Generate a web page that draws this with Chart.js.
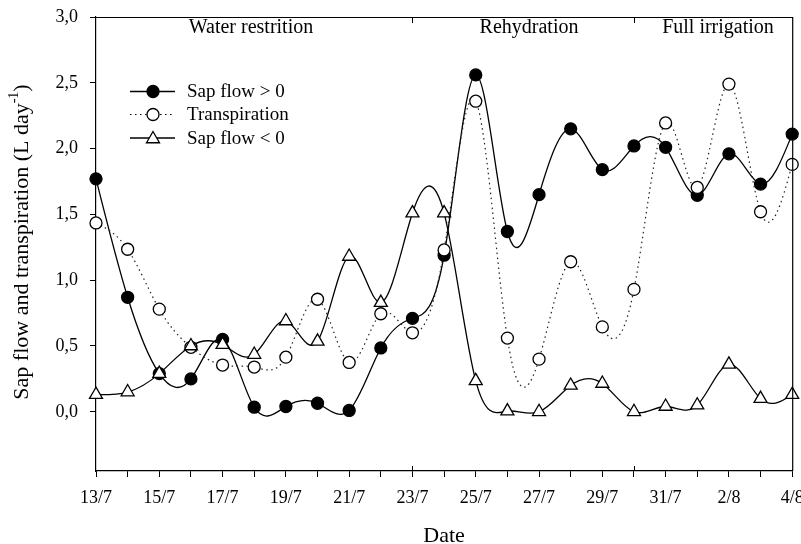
<!DOCTYPE html>
<html>
<head>
<meta charset="utf-8">
<script src="https://cdn.jsdelivr.net/npm/chart.js@4.4.1/dist/chart.umd.min.js"></script>
<style>
html,body{margin:0;padding:0;background:#fff;}
#wrap{width:801px;height:544px;position:relative;}
</style>
</head>
<body>
<div id="wrap"><canvas id="c" width="801" height="544"></canvas></div>
<script>
// ---- data ----
const dates = ['13/7','14/7','15/7','16/7','17/7','18/7','19/7','20/7','21/7','22/7','23/7','24/7','25/7','26/7','27/7','28/7','29/7','30/7','31/7','1/8','2/8','3/8','4/8'];
const sapFlowPos = [1.77,0.87,0.29,0.25,0.55,0.035,0.04,0.065,0.01,0.485,0.71,1.19,2.56,1.37,1.65,2.15,1.84,2.02,2.01,1.645,1.96,1.73,2.11];
const transpiration = [1.435,1.235,0.78,0.49,0.355,0.34,0.415,0.855,0.375,0.745,0.60,1.23,2.36,0.56,0.40,1.14,0.645,0.93,2.195,1.705,2.49,1.52,1.88];
const sapFlowNeg = [0.13,0.15,0.29,0.50,0.51,0.435,0.69,0.535,1.18,0.83,1.51,1.51,0.235,0.005,0.0,0.2,0.215,0.0,0.04,0.05,0.36,0.10,0.13];
const yTicks = [0,0.5,1.0,1.5,2.0,2.5,3.0];
const yTickLabels = ['0,0','0,5','1,0','1,5','2,0','2,5','3,0'];
const phaseLabels = ['Water restrition','Rehydration','Full irrigation'];
const phaseBounds = [10,17]; // 23/7 and 30/7 (indices into dates)
const seriesNames = ['Sap flow > 0','Transpiration','Sap flow < 0'];
const yTitle = 'Sap flow and transpiration (L day';
const xTitle = 'Date';

const FONT = 'Liberation Serif';
Chart.defaults.font.family = FONT;
Chart.defaults.color = '#000';

const toXY = arr => arr.map((v,i)=>({x:i,y:v}));

// natural cubic spline control points (computed from the library's pixel positions)
const splinePlugin = {
  id:'naturalSpline',
  beforeDatasetDraw(chart,args){
    const meta=args.meta, pts=meta.data, n=pts.length;
    if(n<3) return;
    const xs=pts.map(p=>p.x), ys=pts.map(p=>p.y);
    const h=[]; for(let i=0;i<n-1;i++) h.push(xs[i+1]-xs[i]);
    const a=new Array(n).fill(0), b=new Array(n).fill(0), c=new Array(n).fill(0), d=new Array(n).fill(0);
    b[0]=1; b[n-1]=1;
    for(let i=1;i<n-1;i++){a[i]=h[i-1];b[i]=2*(h[i-1]+h[i]);c[i]=h[i];d[i]=6*((ys[i+1]-ys[i])/h[i]-(ys[i]-ys[i-1])/h[i-1]);}
    const cp=new Array(n), dp=new Array(n);
    cp[0]=c[0]/b[0]; dp[0]=d[0]/b[0];
    for(let i=1;i<n;i++){const m=b[i]-a[i]*cp[i-1];cp[i]=c[i]/m;dp[i]=(d[i]-a[i]*dp[i-1])/m;}
    const M=new Array(n); M[n-1]=dp[n-1];
    for(let i=n-2;i>=0;i--) M[i]=dp[i]-cp[i]*M[i+1];
    for(let i=0;i<n-1;i++){
      const s=(ys[i+1]-ys[i])/h[i];
      const d0=s-h[i]*(2*M[i]+M[i+1])/6;
      const d1=s+h[i]*(M[i]+2*M[i+1])/6;
      pts[i].cp2x=xs[i]+h[i]/3; pts[i].cp2y=ys[i]+d0*h[i]/3;
      pts[i+1].cp1x=xs[i+1]-h[i]/3; pts[i+1].cp1y=ys[i+1]-d1*h[i]/3;
    }
    pts[0].cp1x=xs[0];pts[0].cp1y=ys[0];pts[n-1].cp2x=xs[n-1];pts[n-1].cp2y=ys[n-1];
    meta.dataset._pointsUpdated=true;
    meta.dataset._path=undefined;
  }
};

function drawMarker(ctx,style,x,y,r,fill){
  ctx.save();
  ctx.lineWidth=1.3; ctx.strokeStyle='#000'; ctx.fillStyle=fill;
  ctx.beginPath();
  if(style==='circle'){ctx.arc(x,y,r,0,Math.PI*2);}
  else{
    let rad=0;
    ctx.moveTo(x+Math.sin(rad)*r,y-Math.cos(rad)*r);
    rad+=2*Math.PI/3; ctx.lineTo(x+Math.sin(rad)*r,y-Math.cos(rad)*r);
    rad+=2*Math.PI/3; ctx.lineTo(x+Math.sin(rad)*r,y-Math.cos(rad)*r);
    ctx.closePath();
  }
  ctx.fill(); ctx.stroke();
  ctx.restore();
}

const decorPlugin = {
  id:'decor',
  afterDraw(chart){
    const ctx=chart.ctx, ca=chart.chartArea, xs=chart.scales.x;
    ctx.save();
    ctx.strokeStyle='#000'; ctx.lineWidth=1.2;
    // top and right frame
    ctx.beginPath();
    ctx.moveTo(ca.left,ca.top+0.5); ctx.lineTo(ca.right,ca.top+0.5);
    ctx.moveTo(ca.right+0.5,ca.top); ctx.lineTo(ca.right+0.5,ca.bottom);
    ctx.stroke();
    // phase boundary ticks
    ctx.lineWidth=1;
    ctx.beginPath();
    phaseBounds.forEach(i=>{
      const px=Math.round(xs.getPixelForValue(i))+0.5;
      ctx.moveTo(px,ca.top); ctx.lineTo(px,ca.top+6);
      ctx.moveTo(px,ca.bottom-5); ctx.lineTo(px,ca.bottom);
    });
    ctx.stroke();
    // phase labels
    ctx.fillStyle='#000';
    ctx.font='20px "'+FONT+'"';
    ctx.textAlign='center'; ctx.textBaseline='alphabetic';
    ctx.fillText(phaseLabels[0],251,33);
    ctx.fillText(phaseLabels[1],529,33);
    ctx.fillText(phaseLabels[2],718,33);
    // x title
    ctx.font='22px "'+FONT+'"';
    ctx.fillText(xTitle,(ca.left+ca.right)/2,542);
    // y title with superscript
    ctx.save();
    ctx.translate(22,242); ctx.rotate(-Math.PI/2);
    ctx.textAlign='left'; ctx.textBaseline='middle';
    ctx.font='22px "'+FONT+'"';
    const w1=ctx.measureText(yTitle).width, w3=ctx.measureText(')').width;
    ctx.font='14px "'+FONT+'"';
    const w2=ctx.measureText('-1').width;
    const total=w1+w2+w3;
    let x0=-total/2;
    ctx.font='22px "'+FONT+'"';
    ctx.fillText(yTitle,x0,0);
    ctx.font='14px "'+FONT+'"';
    ctx.fillText('-1',x0+w1,-8);
    ctx.font='22px "'+FONT+'"';
    ctx.fillText(')',x0+w1+w2,0);
    ctx.restore();
    // legend
    const lx0=130, lx1=175, mx=153, tx=187, ly=[91.5,114.5,138];
    ctx.font='19px "'+FONT+'"';
    ctx.textAlign='left'; ctx.textBaseline='middle';
    for(let k=0;k<3;k++){
      ctx.save();
      ctx.lineWidth=1.3; ctx.strokeStyle='#000';
      if(k===1){ctx.setLineDash([1.5,3.5]);ctx.lineWidth=1.2;}
      ctx.beginPath(); ctx.moveTo(lx0,ly[k]); ctx.lineTo(lx1,ly[k]); ctx.stroke();
      ctx.restore();
      if(k===0) drawMarker(ctx,'circle',mx,ly[k],6,'#000');
      if(k===1) drawMarker(ctx,'circle',mx,ly[k],6,'#fff');
      if(k===2) drawMarker(ctx,'triangle',mx,ly[k]+1,7.5,'#fff');
      ctx.fillStyle='#000';
      ctx.fillText(seriesNames[k],tx,ly[k]+1);
    }
    ctx.restore();
  }
};

new Chart(document.getElementById('c'),{
  type:'line',
  data:{
    datasets:[
      {label:seriesNames[2],data:toXY(sapFlowNeg),borderColor:'#000',borderWidth:1.3,tension:0.4,
       pointStyle:'triangle',pointRadius:7.5,pointBackgroundColor:'#fff',pointBorderColor:'#000',pointBorderWidth:1.3,clip:false},
      {label:seriesNames[1],data:toXY(transpiration),borderColor:'#222',borderWidth:1.2,borderDash:[1.5,3.5],tension:0.4,
       pointStyle:'circle',pointRadius:6,pointBackgroundColor:'#fff',pointBorderColor:'#000',pointBorderWidth:1.3,clip:false},
      {label:seriesNames[0],data:toXY(sapFlowPos),borderColor:'#000',borderWidth:1.3,tension:0.4,
       pointStyle:'circle',pointRadius:6,pointBackgroundColor:'#000',pointBorderColor:'#000',pointBorderWidth:1.3,clip:false}
    ]
  },
  options:{
    responsive:false, animation:false, events:[],
    layout:{padding:{top:17,right:8,left:0,bottom:0}},
    plugins:{legend:{display:false},tooltip:{enabled:false}},
    scales:{
      x:{type:'linear',min:0,max:dates.length-1,
        grid:{drawOnChartArea:false,drawTicks:true,tickLength:6,color:'#000',lineWidth:1},
        border:{display:true,color:'#000',width:1.2},
        ticks:{stepSize:1,autoSkip:false,maxRotation:0,padding:10,font:{size:18,family:FONT},color:'#000',
          callback:(v)=> (Number.isInteger(v) && v%2===0) ? dates[v] : ''},
        afterFit:(s)=>{s.height=73;s.paddingLeft=0;s.paddingRight=0;}
      },
      y:{type:'linear',min:-0.45,max:3.0,
        afterBuildTicks:(s)=>{s.ticks=yTicks.map(v=>({value:v}));},
        grid:{drawOnChartArea:false,drawTicks:true,tickLength:6,color:'#000',lineWidth:1},
        border:{display:true,color:'#000',width:1.2},
        ticks:{padding:12,font:{size:18,family:FONT},color:'#000',
          callback:(v)=>{const i=yTicks.indexOf(v);return i>=0?yTickLabels[i]:'';}},
        afterFit:(s)=>{s.width=96;s.paddingTop=0;s.paddingBottom=0;}
      }
    }
  },
  plugins:[splinePlugin,decorPlugin]
});
</script>
</body>
</html>
